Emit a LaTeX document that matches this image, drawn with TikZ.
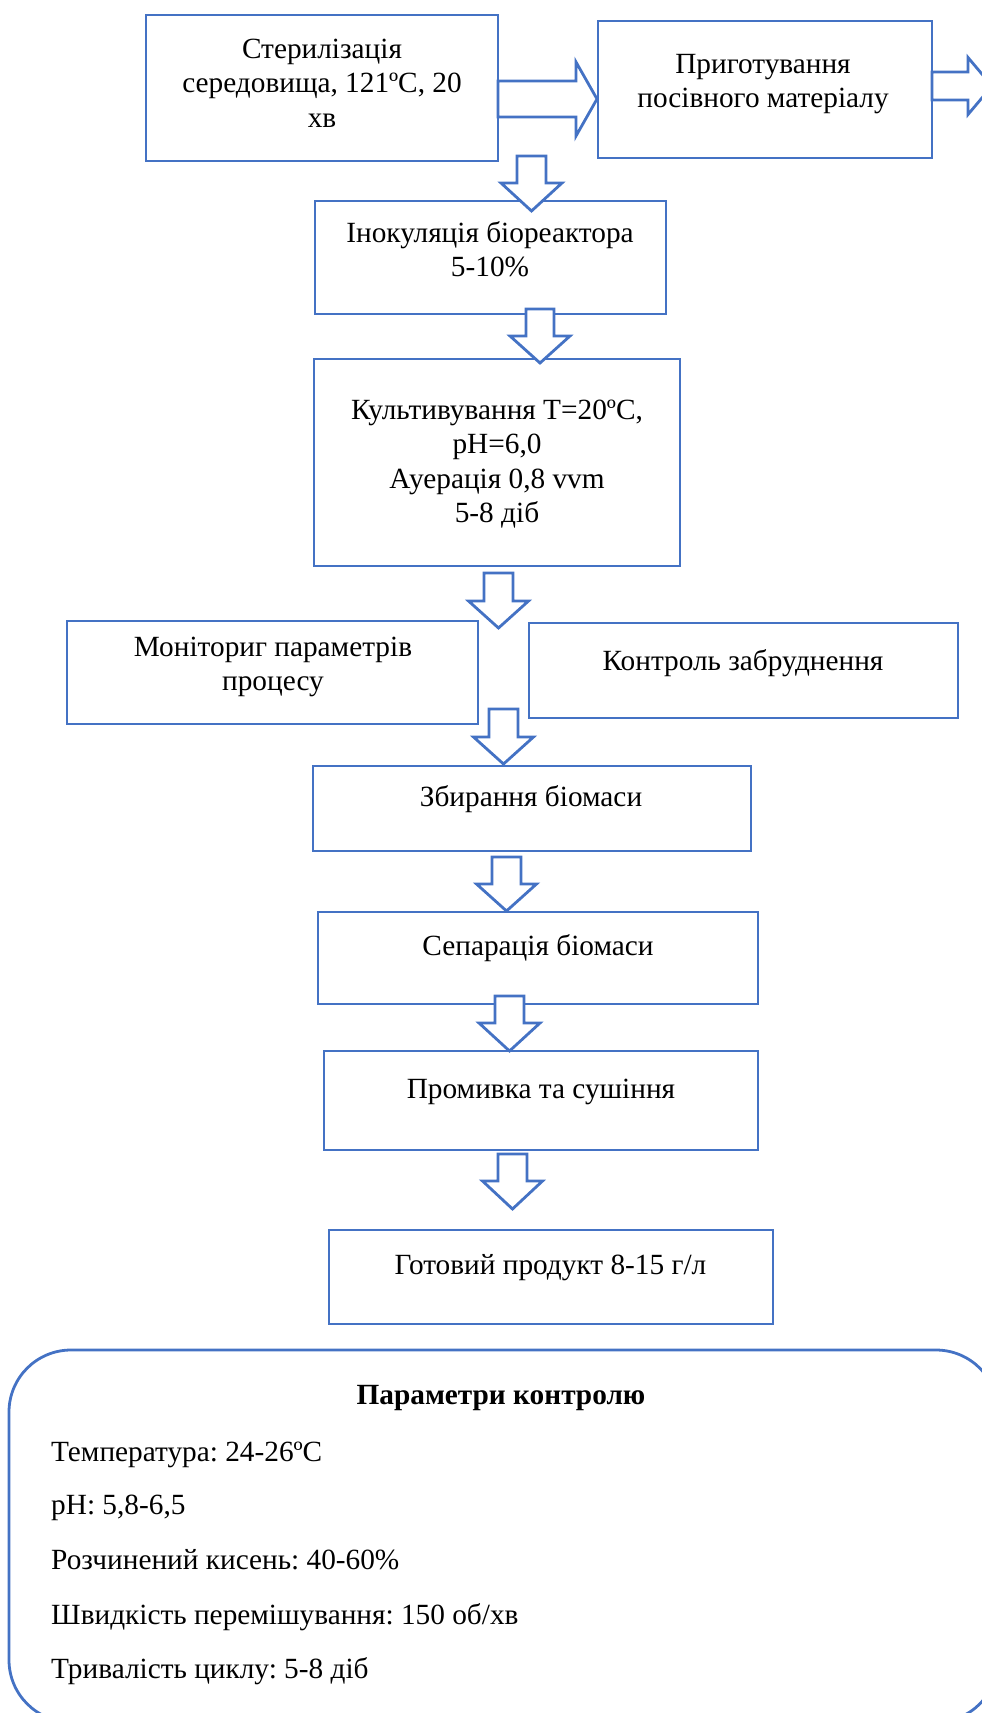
\documentclass[tikz,border=0pt]{standalone}
\usepackage{fontspec}
\setmainfont{Liberation Serif}
\frenchspacing
\definecolor{wblue}{RGB}{68,114,196}
\tikzset{
  boxline/.style={draw=wblue, line width=2.8pt},
  stepbox/.style={boxline, fill=white},
  arr/.style={draw=wblue, fill=white, line width=2.8pt, line join=miter},
  txt/.style={align=center, inner sep=0pt, font=\fontsize{29.3}{34.5}\selectfont},
  ltxt/.style={anchor=base west, inner sep=0pt, font=\fontsize{29.3}{34.5}\selectfont},
}
\newcommand{\blockdown}[6]{%
  \filldraw[arr] (#1-#3,#2) -- (#1+#3,#2) -- (#1+#3,#4) -- (#1+#5,#4) -- (#1,#6) -- (#1-#5,#4) -- (#1-#3,#4) -- cycle;}
\newcommand{\blockright}[6]{% x0, ycenter, shaft half, head base x, head half, tip x
  \filldraw[arr] (#1,#2-#3) -- (#4,#2-#3) -- (#4,#2-#5) -- (#6,#2) -- (#4,#2+#5) -- (#4,#2+#3) -- (#1,#2+#3) -- cycle;}
\begin{document}
\begin{tikzpicture}[x=1pt, y=-1pt]
\useasboundingbox (0,0) rectangle (982,1713);
\clip (0,0) rectangle (982,1713);
% boxes
\draw[stepbox] (146,15) rectangle (498,161);
\draw[stepbox] (598,21) rectangle (932,158);
\draw[stepbox] (315,201) rectangle (666,314);
\draw[stepbox] (314,359) rectangle (680,566);
\draw[stepbox] (67,621) rectangle (478,724);
\draw[stepbox] (529,623) rectangle (958,718);
\draw[stepbox] (313,766) rectangle (751,851);
\draw[stepbox] (318,912) rectangle (758,1004);
\draw[stepbox] (324,1051) rectangle (758,1150);
\draw[stepbox] (329,1230) rectangle (773,1324);
\draw[boxline, rounded corners=62pt] (9,1350) rectangle (998,1722);
% texts
\node[txt] (t1) at (322,83) {Стерилізація\\середовища, 121ºC, 20\\хв};
\node[txt] (t2) at (763,84) {Приготування\\посівного матеріалу};
\node[txt] (t3) at (490,249) {Інокуляція біореактора\\5-10\%};
\node[txt] (t4) at (497,464) {Культивування T=20ºC,\\pH=6,0\\ Ауерація 0,8 vvm\\5-8 діб};
\node[txt] (t5) at (273,667) {Моніториг параметрів\\процесу};
\node[txt] (t6) at (743,663) {Контроль забруднення};
\node[txt] (t7) at (531,799) {Збирання біомаси};
\node[txt] (t8) at (538,948) {Сепарація біомаси};
\node[txt] (t9) at (541,1092) {Промивка та сушіння};
\node[txt] (t10) at (550.5,1268) {Готовий продукт 8-15 г/л};
\node[txt, font=\fontsize{29.3}{34.5}\selectfont\bfseries] (pt) at (501,1398) {Параметри контролю};
\node[ltxt] (p1) at (51,1461) {Температура: 24-26ºC};
\node[ltxt] (p2) at (51,1514) {pH: 5,8-6,5};
\node[ltxt] (p3) at (51,1569) {Розчинений кисень: 40-60\%};
\node[ltxt] (p4) at (51,1624) {Швидкість перемішування: 150 об/хв};
\node[ltxt] (p5) at (51,1678) {Тривалість циклу: 5-8 діб};
% block arrows
\blockright{498}{99}{18}{576}{37}{597}
\blockright{932}{86}{14}{968}{28.5}{992}
\blockdown{531.5}{156}{14.5}{183}{30.5}{211}
\blockdown{540}{309}{14}{336}{30}{363}
\blockdown{498.5}{573}{14.5}{601}{30}{628}
\blockdown{503.5}{709}{14.5}{737}{30}{764}
\blockdown{506.5}{857}{14.5}{884}{30}{911}
\blockdown{509.5}{996}{14.5}{1023}{30.5}{1051}
\blockdown{512.5}{1154}{14.5}{1181}{30}{1209}
\end{tikzpicture}
\end{document}
